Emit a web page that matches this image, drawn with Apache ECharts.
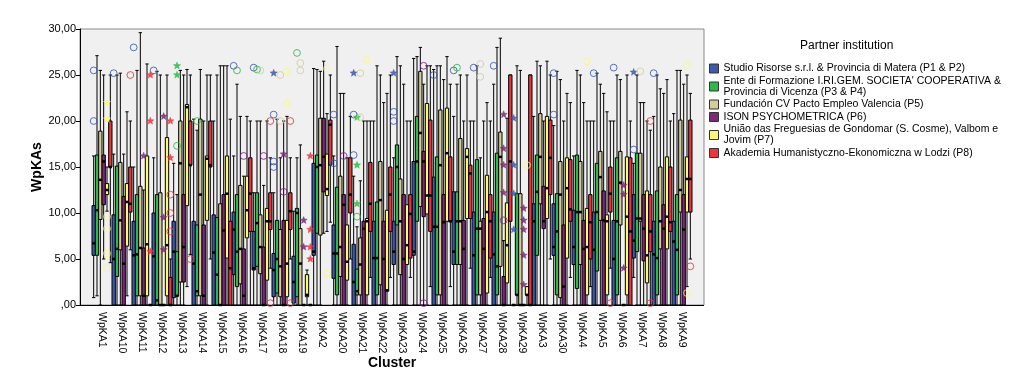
<!DOCTYPE html>
<html>
<head>
<meta charset="utf-8">
<script src="https://cdn.jsdelivr.net/npm/echarts@6/dist/echarts.min.js"></script>
<style>html,body{margin:0;padding:0;background:#fff}#c{width:1024px;height:385px}</style>
</head>
<body>
<div id="c"></div>
<script>
// ---- DATA ----
const categories = ['WpKA1','WpKA10','WpKA11','WpKA12','WpKA13','WpKA14','WpKA15','WpKA16','WpKA17','WpKA18','WpKA19','WpKA2','WpKA20','WpKA21','WpKA22','WpKA23','WpKA24','WpKA25','WpKA26','WpKA27','WpKA28','WpKA29','WpKA3','WpKA30','WpKA4','WpKA5','WpKA6','WpKA7','WpKA8','WpKA9'];
const partnerNames = [
  'Studio Risorse s.r.l. & Provincia di Matera (P1 & P2)',
  "Ente di Formazione I.RI.GEM. SOCIETA' COOPERATIVA &\nProvincia di Vicenza (P3 & P4)",
  'Fundación CV Pacto Empleo Valencia (P5)',
  'ISON PSYCHOMETRICA (P6)',
  'União das Freguesias de Gondomar (S. Cosme), Valbom e\nJovim (P7)',
  'Akademia Humanistyczno-Ekonomiczna w Lodzi (P8)'
];
const yTicks = [0, 5, 10, 15, 20, 25, 30];
// [min, Q1, median, Q3, max] per cluster
const boxP1P2 = [[0.8,5.4,6.7,10.8,16.2],[0,0,5.0,9.8,16.4],[0,0,5.4,9.1,15],[0,0,5.3,10,16],[0,0.8,5.8,9.1,15.4],[0,0,4.5,9.1,20.2],[0,0,5.7,9.8,20],[0,3.3,8.2,10.1,16.2],[0,3.8,4.0,8,12.2],[0,0.9,3.8,5.6,12.2],[0,0.2,2.5,5.3,10.2],[0,5.4,5.8,15.4,25.7],[0,2.9,5.6,8.7,16.2],[0,0,2.5,6.6,14],[0,0,5.1,9.1,20],[0,4.4,5.8,9.1,16],[0,5.4,5.8,15.6,26.8],[0,0,8.5,13.9,25.6],[0,4.4,5.8,12.3,20.5],[0,0,5.4,10.1,20],[0,0,5.5,10.1,24],[0,0,0,0,0],[0,0,9.1,11,20.5],[0,5.4,6.3,11,19.5],[0,4.4,6.3,10.3,16.2],[0,0,6,10.1,20],[0,0,5,9.2,20],[3,5.1,7,12,15.4],[0,0,5.5,9.1,20.5],[0,0,6.9,9.1,20.8]];
const boxP3P4 = [[1,5.4,10.3,16.3,27.1],[0,3.1,6.1,15.1,25],[0,1,5.5,12,25.5],[0,0,0.5,12,25.4],[0,1,1,5.8,12],[0,1,1.5,8.7,19],[0,0,3.3,9.5,25],[0,2,5.8,12,24],[0,4.2,8.9,12.2,20],[0,1.3,5,9.2,20.2],[0,0.9,10,10.5,16],[0,7.8,15,16.3,25.6],[0,1.1,5.6,12.8,28.1],[0,1.1,1.5,3.9,8.5],[0,1.1,5.1,11.2,26],[0,8.7,15,17.4,27],[0,9.1,15.6,20.5,27],[0,1.1,8.5,16.1,26],[0,4.4,9.1,12.3,24],[0,1.1,8.3,15.8,26],[0,1.1,4.2,16.5,28],[0,1.1,1.1,12.1,26],[0,5.4,12.3,16.3,26.5],[0,1.1,8,12.1,25.4],[0,1.8,10.1,16.3,25.5],[0,3.7,10.1,15.4,25.2],[0,1.1,9.1,16,25],[0,5.8,9.4,16.5,25],[0,1.1,5.1,12.4,25],[0,1.1,6,12,25.5]];
const boxP5 = [[0,9.3,13.6,18.9,25.5],[0,6,9.2,15.5,25.2],[0,1,6.2,12.9,29.6],[0,0,0,12.2,25],[0,2.5,15.4,20,25.5],[0,1,12,20.2,25.6],[0,0,0,11,26],[0,2.3,6.1,13,20.5],[0,3.4,6.3,9.8,20],[0,0.9,4.2,8.2,16],[0,0,4.5,8.3,17.4],[0,7.6,15.2,20.3,25.4],[0,3.1,6.3,14,23],[0,1.1,4.4,7.3,13.5],[0,2.2,11.4,15.6,25],[0,3.3,9.1,13.7,26],[0,10.7,18.7,25.4,28],[0,1.1,15.2,21.2,26],[0,4.4,9.1,18.1,25],[0,1.1,8.3,9.1,16],[0,4.2,16.1,18.8,29],[0,0,0,12.1,25.5],[0,11,16.1,20.8,26],[0,0.8,12,15.6,24.5],[0,4.4,10.1,15.6,25],[0,9.2,13.9,16.7,24],[0,8.7,13.3,16.7,24.5],[0,9.1,9.4,16.5,22],[0,6.1,9.1,15,23.5],[0,10.1,12.5,20.1,25.5]];
const boxP6 = [[5,10.9,15.6,16.3,25],[0,0,4.5,11.8,16.4],[0,0,1,6.2,12.5],[0,0,0,0,0],[0,2.5,6.3,12,25],[0,0,1,8.7,20],[0,0,8.1,12,26],[0,0,1,6.1,14],[0,0,0,6.3,13],[0,0,0,9.2,20],[0,0,0,0,0],[7.8,12.3,16.1,20.3,26.5],[0,0,10.9,12,23],[0,0,8.3,9.1,20],[0,0,5,9.1,22],[0,0,5,12,24],[0,9.6,15.6,16.7,24],[0,0,9,12,24.5],[0,0,6.1,9.2,20],[0,0,6.1,9.4,20],[0,0,0,3.1,7],[0,0,0,0,0],[0,8.3,9.1,12.9,20],[0,0,2,8.7,20],[0,0,6.1,9.2,22],[0,0,9.2,12.4,23],[0,0,0,0,0],[0,4.8,8.3,12,22],[0,0,8.3,10.9,23],[0,0,8.2,12,24]];
const boxP7 = [[10.2,12,12.5,13.2,15],[1,6.4,11.2,13.2,21],[0,1,6.6,16.2,26.2],[0,1,6.5,18.2,25],[2,10.8,21.5,21.8,25.6],[0,9.2,15.9,16.2,25],[0,5.1,12.1,16.2,26],[0,7.3,10.3,14,20.5],[0,2.7,9.1,10.5,20],[0,0.9,4.5,9.2,20.5],[0,0.9,1.1,3.3,3.8],[8,11.9,12.6,16.4,20.8],[0,2.7,4.7,8.7,16],[0,1.1,9.1,9.4,20],[0,1.5,1.6,10.3,23],[0,4.4,6.5,10.9,20],[0,9.9,11.9,21.9,26],[0,9.1,16.5,21.4,27],[0,9.4,16.1,17,25],[0,1.3,10.1,14.1,22],[0,2.4,6.5,11.1,20.3],[0,1.1,1.1,2,2],[0,9.4,12.7,20.5,26.5],[0,5.1,12.7,16,23],[0,1.1,6.3,10.5,20],[0,1.1,9.1,9.8,21],[0,1.1,9.6,16.1,25],[0,2.4,5.4,12.4,20],[0,6.1,9.6,16.1,24.5],[2,10.1,13.7,16.1,25]];
const boxP8 = [[4.6,15,15,20,25],[6,10.1,11,15,20],[0,0,0,0,0],[0,0,0,3,5],[5.5,15.2,15.2,20,25],[5,15,15.2,20,25],[0,0,4,9.1,20.2],[0,8,12.1,16,20],[4,8.2,9.1,12.2,16],[5,8.2,10.2,12.2,16],[0,0,0,0,0],[9,15.2,19.6,20.1,25],[5,10,12,16,20.5],[3,8,11,15.5,20],[3,8,12,15,25],[3,5.1,9.9,12,20],[2,8,11.9,20.1,26],[2,9.1,9.1,16.1,24],[4,9.4,14.3,15.2,20],[3,5.1,9.1,12,20],[0,9.1,15.6,25,25],[0,0,0,25,25],[5,12,16,20.1,25],[3,9.1,10.4,15.8,22],[2,5,9,12,20],[4,10.1,12.1,15,20],[0,0,8,16,20],[0,5.8,8,12,19],[0,8,9,15,20],[5,10.1,13.7,20.1,23]];
// outliers: [cluster index, value, 'o' = outlier, '*' = extreme]
const outP1P2 = [[0,25.5,'o'],[0,20,'o'],[1,25.2,'o'],[2,28,'o'],[3,25.5,'o'],[7,26,'o'],[8,25.8,'o'],[9,25.2,'*'],[9,20.7,'o'],[9,15.6,'o'],[9,15,'o'],[12,20.7,'o'],[12,15.4,'o'],[13,25.2,'*'],[13,20.7,'o'],[13,16.3,'o'],[15,25.2,'*'],[15,21,'o'],[15,20,'o'],[17,25,'o'],[18,25.5,'o'],[19,25.8,'o'],[20,26,'o'],[21,20.3,'*'],[21,15.2,'*'],[21,12.1,'*'],[21,8.2,'*'],[23,25.2,'o'],[23,20.7,'o'],[25,25.2,'o'],[26,25.8,'o'],[27,25.3,'*'],[27,16.9,'o'],[28,25.2,'o']];
const outP3P4 = [[4,26,'*'],[4,25,'*'],[4,17.3,'o'],[5,20,'o'],[7,25.5,'o'],[8,25.6,'o'],[10,27.4,'o'],[13,20.4,'*'],[13,15.2,'*'],[13,11,'*'],[13,9.6,'o'],[18,25.8,'o']];
const outP5 = [[8,25.5,'o'],[9,25,'o'],[9,20,'o'],[10,26.3,'o'],[10,25.5,'o'],[13,25.2,'o'],[13,20.4,'o'],[19,26.2,'o'],[19,24.8,'o'],[27,25.4,'o']];
const outP6 = [[2,16.2,'*'],[3,20.5,'*'],[3,9.5,'*'],[3,6,'*'],[7,16.2,'o'],[8,16.2,'o'],[9,16.4,'*'],[9,12.3,'o'],[10,9.2,'*'],[10,6.3,'*'],[12,16.2,'o'],[16,26,'o'],[16,0.2,'o'],[20,20.7,'*'],[20,17,'*'],[20,15.2,'*'],[20,12.2,'*'],[20,9.2,'o'],[21,10.5,'*'],[21,9.2,'*'],[21,8.2,'*'],[21,5.4,'*'],[21,2.2,'*'],[26,13,'*'],[26,12,'*'],[26,4,'*']];
const outP7 = [[0,22,'*'],[0,20.2,'*'],[0,9.6,'o'],[0,8.3,'o'],[0,5.6,'o'],[0,4,'o'],[9,25.4,'o'],[9,21.9,'o'],[11,25.7,'o'],[11,3.4,'o'],[13,26.7,'o'],[21,15.2,'o'],[24,26.5,'o'],[29,26.1,'o'],[29,1.3,'o']];
const outP8 = [[1,25,'o'],[2,25,'*'],[2,20,'*'],[2,5.8,'*'],[3,20,'*'],[3,16,'*'],[3,12,'o'],[3,10,'o'],[3,8,'o'],[4,5,'o'],[8,20,'o'],[8,0.2,'o'],[9,20,'o'],[9,0.2,'o'],[10,16.2,'*'],[10,8.2,'*'],[10,6.3,'*'],[10,5,'*'],[25,0.2,'o'],[27,20,'o'],[27,0.2,'o'],[29,4.2,'o']];

// ---- STYLE / BUILD ----
const colors = ['#3e58ac','#2eb848','#d3ce97','#7c287d','#fbf873','#ef3338'];
const boxSets = [boxP1P2, boxP3P4, boxP5, boxP6, boxP7, boxP8];
const outSets = [outP1P2, outP3P4, outP5, outP6, outP7, outP8];
const FONT = 'Liberation Sans, Arial, sans-serif';

function boxSeries(j) {
  return {
    type: 'custom', name: partnerNames[j], z: 3,
    itemStyle: { color: colors[j] },
    encode: { x: 0, y: [1, 2, 3, 4, 5] },
    data: boxSets[j].map((s, i) => [i].concat(s)),
    renderItem: function (params, api) {
      const cat = api.value(0);
      const band = api.size([1, 0])[0];
      const w = band / 6;
      const cx = api.coord([cat, 0])[0] - band / 2 + w * (j + 0.5);
      const y = k => api.coord([cat, api.value(k)])[1];
      const yMin = y(1), yQ1 = y(2), yMed = y(3), yQ3 = y(4), yMax = y(5);
      const h = w / 2;
      const ls = { stroke: '#000', lineWidth: 1 };
      return { type: 'group', children: [
        { type: 'line', shape: { x1: cx, y1: yQ3, x2: cx, y2: yMax }, style: ls },
        { type: 'line', shape: { x1: cx, y1: yQ1, x2: cx, y2: yMin }, style: ls },
        { type: 'line', shape: { x1: cx - h, y1: yMax, x2: cx + h, y2: yMax }, style: ls },
        { type: 'line', shape: { x1: cx - h, y1: yMin, x2: cx + h, y2: yMin }, style: ls },
        { type: 'rect', shape: { x: cx - h, y: yQ3, width: w, height: Math.max(yQ1 - yQ3, 0.5) },
          style: { fill: colors[j], stroke: '#000', lineWidth: 1 } },
        { type: 'line', shape: { x1: cx - h, y1: yMed, x2: cx + h, y2: yMed }, style: { stroke: '#000', lineWidth: 2.5 } }
      ]};
    }
  };
}
function starPoints(cx, cy, R, r) {
  const pts = [];
  for (let k = 0; k < 10; k++) {
    const a = -Math.PI / 2 + k * Math.PI / 5;
    const rr = k % 2 ? r : R;
    pts.push([cx + rr * Math.cos(a), cy + rr * Math.sin(a)]);
  }
  return pts;
}
function outlierSeries(j) {
  return {
    type: 'custom', z: 4, silent: true,
    encode: { x: 0, y: 1 },
    data: outSets[j].map(o => [o[0], o[1], o[2] === '*' ? 1 : 0]),
    renderItem: function (params, api) {
      const cat = api.value(0);
      const band = api.size([1, 0])[0];
      const w = band / 6;
      const p = api.coord([cat, api.value(1)]);
      const cx = p[0] - band / 2 + w * (j + 0.5);
      if (api.value(2) === 1) {
        return { type: 'polygon', shape: { points: starPoints(cx, p[1], 3.8, 1.6) },
          style: { fill: colors[j], stroke: colors[j], lineWidth: 0.5, opacity: 0.85 } };
      }
      return { type: 'circle', shape: { cx: cx, cy: p[1], r: 3.4 },
        style: { fill: 'none', stroke: colors[j], lineWidth: 1, opacity: 0.85 } };
    }
  };
}

const series = [];
for (let j = 0; j < 6; j++) series.push(boxSeries(j));
for (let j = 0; j < 6; j++) series.push(outlierSeries(j));

const chart = echarts.init(document.getElementById('c'), null, { renderer: 'canvas' });
chart.setOption({
  animation: false,
  backgroundColor: '#fff',
  textStyle: { fontFamily: FONT },
  title: { text: 'Partner institution', left: 800, top: 40, padding: 0,
    textStyle: { fontSize: 12, fontWeight: 'normal', color: '#000', fontFamily: FONT } },
  legend: {
    orient: 'vertical', left: 709, top: 63, padding: 0, icon: 'rect', itemWidth: 9, itemHeight: 9, itemGap: 1.5,
    selectedMode: false, data: partnerNames,
    itemStyle: { borderColor: '#333', borderWidth: 1 },
    textStyle: { fontSize: 10.5, lineHeight: 11, color: '#000', fontFamily: FONT }
  },
  graphic: [
    { type: 'rect', z: -100, shape: { x: 80, y: 29, width: 624, height: 276 },
      style: { fill: '#f0f0f0', stroke: '#8a8a8a', lineWidth: 1 } },
    { type: 'line', z: -50, shape: { x1: 80, y1: 305.5, x2: 704, y2: 305.5 }, style: { stroke: '#000', lineWidth: 1 } }
  ],
  grid: { left: 92, right: 332, top: 29, bottom: 80, containLabel: false },
  xAxis: {
    type: 'category', data: categories, boundaryGap: true,
    name: 'Cluster', nameLocation: 'middle', nameGap: 51, nameMoveOverlap: false,
    nameTextStyle: { fontSize: 14, fontWeight: 'bold', color: '#000', fontFamily: FONT },
    axisLine: { lineStyle: { color: '#000', width: 1 } },
    axisTick: { alignWithLabel: true, length: 5, lineStyle: { color: '#000' } },
    axisLabel: { rotate: -90, interval: 0, margin: 7, fontSize: 10.5, color: '#000', fontFamily: FONT },
    splitLine: { show: false }
  },
  yAxis: {
    type: 'value', min: yTicks[0], max: yTicks[yTicks.length - 1], interval: 5, offset: 12,
    name: 'WpKAs', nameLocation: 'middle', nameGap: 36, nameRotate: 90, nameMoveOverlap: false,
    nameTextStyle: { fontSize: 14, fontWeight: 'bold', color: '#000', fontFamily: FONT },
    axisLine: { show: true, lineStyle: { color: '#000', width: 1 } },
    axisTick: { show: true, length: 4, lineStyle: { color: '#000' } },
    axisLabel: { fontSize: 11, color: '#000', margin: 4, fontFamily: FONT,
      formatter: v => (v === 0 ? ',00' : v.toFixed(2).replace('.', ',')) },
    splitLine: { show: false }
  },
  series: series
});
</script>
</body>
</html>
